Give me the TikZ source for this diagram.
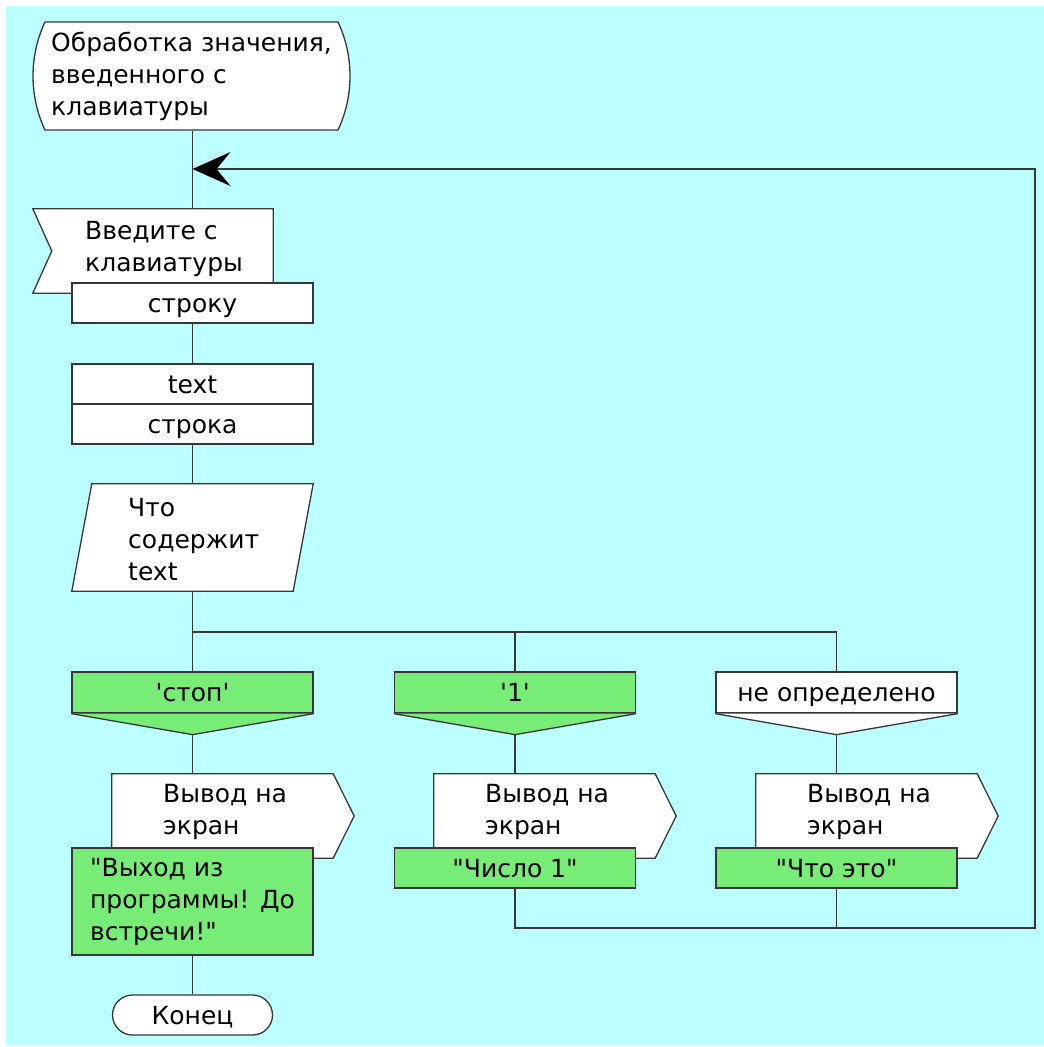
\documentclass[tikz,border=0pt]{standalone}
\usepackage{fontspec}
\setmainfont{DejaVu Sans}[Ligatures=TeXOff]
\usetikzlibrary{arrows.meta,shapes.misc}
\definecolor{bgcyan}{RGB}{187,255,255}
\definecolor{casegreen}{RGB}{119,236,119}
\definecolor{linegray}{RGB}{55,55,55}
\tikzset{
  blk/.style={draw=linegray, fill=white, line width=1.3pt, inner sep=0pt, font=\fontsize{25}{32}\selectfont},
  box/.style={blk, minimum width=241pt, minimum height=40pt, text height=23pt, text depth=5pt},
  txt/.style={inner sep=0pt, align=left, font=\fontsize{25}{32}\selectfont},
  shp/.style={inner sep=0pt},
  wire/.style={draw=linegray, line width=1.3pt},
}
\begin{document}
\begin{tikzpicture}[x=1pt,y=-1pt]
\fill[white] (0,0) rectangle (1044,1047);
\fill[bgcyan] (6,6) rectangle (1044,1045);
\useasboundingbox (0,0) rectangle (1044,1047);

% начало
\node[blk, rounded rectangle, rounded rectangle arc length=50, minimum width=317pt, minimum height=108pt, align=left] (start) at (191.5,76) {Обработка значения,\\введенного с\\клавиатуры};
\coordinate (join) at (192.5,169);

% ввод строки
\node[shp, minimum width=240pt, minimum height=84pt] (inp) at (153,251) {};
\filldraw[wire, fill=white] (inp.north west) -- (inp.north east) -- (inp.south east) -- (inp.south west) -- ([xshift=19pt]inp.west) -- cycle;
\node[txt, anchor=west] (inptxt) at (85,249) {Введите с\\клавиатуры};
\node[box] (str) at (192.5,303) {строку};

% переменная
\node[box] (var) at (192.5,384) {text};
\node[box] (vtype) at (192.5,424) {строка};

% выбор
\node[shp, minimum width=241pt, minimum height=107pt] (ask) at (192.5,537.5) {};
\filldraw[wire, fill=white] ([xshift=20pt]ask.north west) -- (ask.north east) -- ([xshift=-20pt]ask.south east) -- (ask.south west) -- cycle;
\node[txt, anchor=west] (asktxt) at (128,540) {Что\\содержит\\text};
\coordinate (br) at (192.5,632);

% варианты
\node[box, fill=casegreen, minimum height=41pt] (c1) at (192.5,692.5) {'стоп'};
\filldraw[wire, fill=casegreen] (c1.south west) -- ([yshift=-21pt]c1.south) -- (c1.south east);
\node[box, fill=casegreen, minimum height=41pt] (c2) at (515,692.5) {'1'};
\filldraw[wire, fill=casegreen] (c2.south west) -- ([yshift=-21pt]c2.south) -- (c2.south east);
\node[box, minimum height=41pt] (c3) at (836.5,692.5) {не определено};
\filldraw[wire, fill=white] (c3.south west) -- ([yshift=-21pt]c3.south) -- (c3.south east);

% вывод на экран
\node[shp, minimum width=221pt, minimum height=84pt] (out1) at (222.5,816) {};
\filldraw[wire, fill=white] (out1.north west) -- (out1.north east) -- ([xshift=21pt]out1.east) -- (out1.south east) -- (out1.south west) -- cycle;
\node[txt, anchor=west] at (163,812) {Вывод на\\экран};
\node[shp, minimum width=221pt, minimum height=84pt] (out2) at (544.5,816) {};
\filldraw[wire, fill=white] (out2.north west) -- (out2.north east) -- ([xshift=21pt]out2.east) -- (out2.south east) -- (out2.south west) -- cycle;
\node[txt, anchor=west] at (485,812) {Вывод на\\экран};
\node[shp, minimum width=221pt, minimum height=84pt] (out3) at (866.5,816) {};
\filldraw[wire, fill=white] (out3.north west) -- (out3.north east) -- ([xshift=21pt]out3.east) -- (out3.south east) -- (out3.south west) -- cycle;
\node[txt, anchor=west] at (807,812) {Вывод на\\экран};

\node[blk, fill=casegreen, minimum width=241pt, minimum height=107pt, align=left] (m1) at (192.5,901.5) {"Выход из\\программы! До\\встречи!"};
\node[box, fill=casegreen] (m2) at (515,868) {"Число 1"};
\node[box, fill=casegreen] (m3) at (836.5,868) {"Что это"};

% конец
\node[blk, rounded rectangle, minimum width=160pt, minimum height=40pt, text height=23pt, text depth=5pt] (stop) at (192.5,1015) {Конец};
\coordinate (loopB) at (1035,928);

% линии
\draw[wire] (start.south -| join) -- (inp.north -| join);
\draw[wire] (str.south) -- (var.north);
\draw[wire] (vtype.south) -- (ask.north);
\draw[wire] (ask.south) -- (br) -| (c3.north);
\draw[wire] (br -| c2.north) -- (c2.north);
\draw[wire] (br) -- (c1.north);
\draw[wire] ([yshift=-21pt]c1.south) -- (c1.south |- out1.north);
\draw[wire] ([yshift=-21pt]c2.south) -- (c2.south |- out2.north);
\draw[wire] ([yshift=-21pt]c3.south) -- (c3.south |- out3.north);
\draw[wire] (m1.south) -- (stop.north);
\draw[wire] (m3.south) -- (m3.south |- loopB);
\draw[wire, -{Stealth[length=38pt,width=34pt,inset=14pt,color=black]}] (m2.south) |- (loopB) |- (join);
\end{tikzpicture}
\end{document}
